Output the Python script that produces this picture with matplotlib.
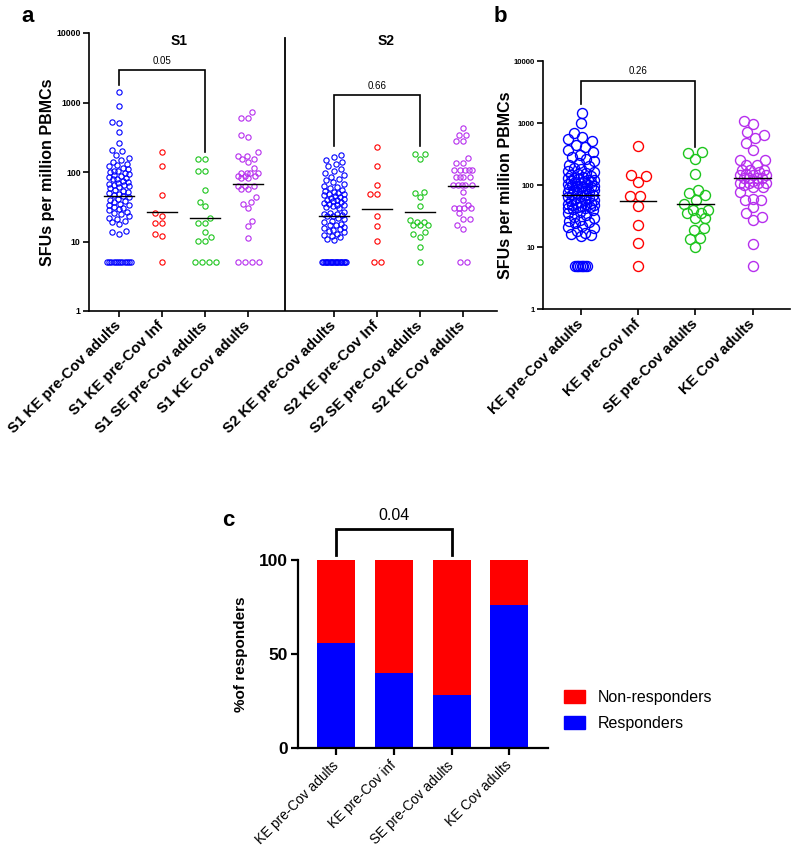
import numpy as np
import matplotlib.pyplot as plt
from matplotlib.patches import Patch

plt.rcParams['font.family'] = ['Liberation Sans', 'DejaVu Sans']

# ---- panel a: S1 / S2 SFUs per million PBMCs ----
a_labels = ['S1 KE pre-Cov adults', 'S1 KE pre-Cov Inf', 'S1 SE pre-Cov adults', 'S1 KE Cov adults',
            'S2 KE pre-Cov adults', 'S2 KE pre-Cov Inf', 'S2 SE pre-Cov adults', 'S2 KE Cov adults']

s1_ke_adults = [1400, 900, 520, 500, 380, 260, 210, 200, 175, 160,
                150, 140, 130, 125, 120, 115, 110, 105, 102, 100, 97, 94, 90, 88, 85,
                83, 80, 78, 75, 72, 70, 68, 66, 64, 62, 60, 58, 56, 54, 52,
                50, 48, 46, 45, 43, 41, 40, 38, 37, 35, 34, 33, 31, 30, 29, 28, 27,
                26, 25, 23, 22, 21, 20, 19, 18, 14, 13.5, 13] + [5] * 12
s1_ke_inf = [196, 123, 47, 25.4, 23.5, 18.6, 18.6, 12.8, 12, 5]
s1_se_adults = [155, 155, 104, 104, 56, 37, 32, 22, 18.6, 18.6, 13.6, 11.7, 10.2, 10.2, 5, 5, 5, 5]
s1_ke_cov = [720, 590, 590, 340, 318, 191, 171, 171, 155, 155, 141, 113, 96, 96, 96, 96,
             89, 89, 89, 83, 83, 63, 63, 63, 57, 57, 43, 37, 35, 30, 20, 16.5, 11.2, 5, 5, 5, 5]

s2_ke_adults = [176, 165, 150, 140, 130, 120, 112, 105, 98, 92, 86, 80, 76, 72, 68,
                62, 60, 58, 56, 54, 52, 50, 49, 48, 46, 45, 44, 42, 41, 40, 39, 38, 37,
                36, 35, 34, 33, 32, 31, 30, 27, 26, 25, 25, 24, 23, 23, 22,
                21, 20, 19, 18, 17.5, 17, 16, 15.5, 15, 14.5, 14, 13.5, 13, 12.5, 12,
                11.5, 11, 10.5] + [5] * 20
s2_ke_inf = [227, 123, 66, 48, 48, 23.5, 16.7, 10, 5, 5]
s2_se_adults = [182, 182, 155, 52, 50, 43, 32, 20.4, 19, 19, 17, 17, 17, 13.8, 12.7, 11.7, 8.4, 5]
s2_ke_cov = [425, 340, 340, 275, 275, 158, 133, 133, 107, 107, 107, 107, 107, 86, 86, 86, 86,
             65, 65, 65, 65, 65, 52, 40, 33.5, 30, 30, 30, 30, 25.5, 21, 21, 17, 15, 5, 5]

# ---- panel b: combined ----
b_labels = ['KE pre-Cov adults', 'KE pre-Cov Inf', 'SE pre-Cov adults', 'KE Cov adults']
b_ke_adults = [1430, 990, 690, 600, 560, 520, 450, 410, 365, 340, 310, 280, 260, 240, 225,
               210, 200, 190, 180, 170,
               160, 155, 150, 145, 140, 135, 130, 128, 125, 122, 120, 117, 115, 112, 110,
               108, 105, 103, 100, 98, 96, 94, 92, 90, 88, 86, 84, 82, 80, 78, 76, 74, 72,
               70, 68, 66, 64, 62, 60, 58, 57, 55, 54, 52, 51, 50, 49, 48, 47, 46, 45, 44,
               43, 42, 41,
               39, 37, 35, 33, 31, 29, 27, 26, 25, 24, 22, 21, 20, 18, 17, 16, 15.5, 15] + [5] * 8
b_ke_inf = [425, 145, 140, 113, 66, 66, 46, 22.6, 11.7, 5]
b_se_adults = [345, 330, 259, 150, 83, 74, 69, 57, 50, 40, 39, 35, 35, 29, 29, 20, 19, 14, 13.5, 10]
b_ke_cov = [1090, 960, 720, 640, 570, 480, 365, 252, 252, 210, 210, 174, 174, 174, 160, 150,
            145, 145, 145, 128, 128, 128, 128, 115, 109, 109, 109, 109, 100, 94, 94, 78, 60,
            57, 57, 45, 35, 30, 27, 11.2, 5]

# ---- panel c: % of responders ----
c_labels = ['KE pre-Cov adults', 'KE pre-Cov inf', 'SE pre-Cov adults', 'KE Cov adults']
responders = [56, 40, 28, 76]
non_responders = [100 - r for r in responders]

BLUE, RED, GREEN, PURPLE = '#0000FF', '#FF0000', '#1DC51D', '#B62EEE'


def swarm(yp, c, wmax, fixed_x=(), fixed_y=()):
    xs = np.zeros(len(yp))
    px, py = list(fixed_x), list(fixed_y)
    grid = np.linspace(-wmax, wmax, 41)
    for i in np.argsort(yp):
        y = yp[i]
        ax_ = np.array(px)
        ay_ = np.array(py)
        near = np.abs(ay_ - y) < c if len(ay_) else np.zeros(0, bool)
        cands = [0.0]
        for x0, y0 in zip(ax_[near], ay_[near]):
            dx = np.sqrt(c * c - (y - y0) ** 2)
            cands += [x0 - dx, x0 + dx]
        best = None
        for x in sorted(set(cands), key=abs):
            if abs(x) > wmax + 1e-9:
                continue
            if not near.any() or np.all((ax_[near] - x) ** 2 + (ay_[near] - y) ** 2 >= c * c - 1e-6):
                best = x
                break
        if best is None:
            d = [np.min((ax_[near] - g) ** 2 + (ay_[near] - y) ** 2) for g in grid]
            best = grid[int(np.argmax(d))]
        xs[i] = best
        px.append(best)
        py.append(y)
    return xs


def draw_group(ax, xpos, vals, color, ms, mew, c, wmax, row_w, half):
    vals = np.asarray(vals, float)
    pts = ax.transData.transform(np.column_stack([np.full(len(vals), xpos), vals]))
    floor = vals == vals.min()
    off = np.zeros(len(vals))
    if floor.sum() > 1:
        n = floor.sum()
        span = min((n - 1) * c, row_w)
        off[floor] = np.linspace(-span / 2, span / 2, n)
    rest = ~floor if floor.sum() > 1 else np.ones(len(vals), bool)
    off[rest] = swarm(pts[rest, 1], c, wmax, off[~rest], pts[~rest, 1])
    pts[:, 0] += off
    data = ax.transData.inverted().transform(pts)
    ax.plot(data[:, 0], data[:, 1], 'o', mfc='none', mec=color, ms=ms, mew=mew, clip_on=False, zorder=2)
    gm = 10 ** np.mean(np.log10(vals))
    ax.plot([xpos - half, xpos + half], [gm, gm], color='black', lw=1.0, zorder=3)


def bracket(ax, x0, x1, ytop, yl, yr, label, fs, lw, dy):
    ax.plot([x0, x0, x1, x1], [yl, ytop, ytop, yr], color='black', lw=lw, clip_on=False,
            solid_joinstyle='miter')
    ax.text((x0 + x1) / 2, dy, label, ha='center', va='center', fontsize=fs)


fig = plt.figure(figsize=(7.94, 8.52), dpi=100)
W, H = 794, 852


def box(x0, x1, ytop, ybot):
    return [x0 / W, 1 - ybot / H, (x1 - x0) / W, (ybot - ytop) / H]


# ---------------- panel a ----------------
ax = fig.add_axes(box(89, 497, 33, 311))
ax.set_yscale('log')
ax.set_ylim(1, 10000)
ax.set_xlim(-0.7, 8.79)
a_pos = [0, 1, 2, 3, 5, 6, 7, 8]
a_data = [s1_ke_adults, s1_ke_inf, s1_se_adults, s1_ke_cov,
          s2_ke_adults, s2_ke_inf, s2_se_adults, s2_ke_cov]
a_cols = [BLUE, RED, GREEN, PURPLE] * 2
for p, v, col in zip(a_pos, a_data, a_cols):
    draw_group(ax, p, v, col, 3.8, 0.8, 7, 10, 24, 0.34)
ax.plot([3.85, 3.85], [1, 8500], color='black', lw=1.3)
ax.text(1.4, 7600, 'S1', ha='center', va='center', fontsize=10, fontweight='bold')
ax.text(6.2, 7600, 'S2', ha='center', va='center', fontsize=10, fontweight='bold')
bracket(ax, 0, 2, 2940, 1790, 195, '0.05', 7, 1.2, 4000)
bracket(ax, 5, 7, 1280, 237, 237, '0.66', 7, 1.2, 1750)
ax.set_yticks([1, 10, 100, 1000, 10000])
ax.set_yticklabels(['1', '10', '100', '1000', '10000'], fontsize=6.3, fontweight='bold')
ax.minorticks_off()
ax.set_xticks(a_pos)
ax.set_xticklabels(a_labels, rotation=45, ha='right', va='center', rotation_mode='anchor',
                   fontsize=10.8, fontweight='bold')
ax.set_ylabel('SFUs per million PBMCs', fontsize=11.5, fontweight='bold', labelpad=1)
for s in ['top', 'right']:
    ax.spines[s].set_visible(False)
for s in ['left', 'bottom']:
    ax.spines[s].set_linewidth(1.2)
ax.tick_params(axis='both', width=1.2, length=4, pad=2)
ax.tick_params(axis='x', pad=5)

# ---------------- panel b ----------------
bx = fig.add_axes(box(543, 790, 61, 309))
bx.set_yscale('log')
bx.set_ylim(1, 10000)
bx.set_xlim(-0.66, 3.65)
b_data = [b_ke_adults, b_ke_inf, b_se_adults, b_ke_cov]
for p, (v, col) in enumerate(zip(b_data, [BLUE, RED, GREEN, PURPLE])):
    draw_group(bx, p, v, col, 7.2, 1.0, 10, 13, 12, 0.32)
bracket(bx, 0, 2, 4750, 2030, 410, '0.26', 7, 1.2, 7000)
bx.set_yticks([1, 10, 100, 1000, 10000])
bx.set_yticklabels(['1', '10', '100', '1000', '10000'], fontsize=5.6, fontweight='bold')
bx.minorticks_off()
bx.set_xticks(range(4))
bx.set_xticklabels(b_labels, rotation=45, ha='right', va='center', rotation_mode='anchor',
                   fontsize=10.5, fontweight='bold')
bx.set_ylabel('SFUs per million PBMCs', fontsize=11.5, fontweight='bold', labelpad=0)
for s in ['top', 'right']:
    bx.spines[s].set_visible(False)
for s in ['left', 'bottom']:
    bx.spines[s].set_linewidth(1.2)
bx.tick_params(axis='both', width=1.2, length=4, pad=2)
bx.tick_params(axis='x', pad=5)

# ---------------- panel c ----------------
cx = fig.add_axes(box(298, 548, 560, 748))
xc = np.arange(len(c_labels))
cx.bar(xc, responders, width=0.66, color=BLUE, label='Responders')
cx.bar(xc, non_responders, width=0.66, bottom=responders, color=RED, label='Non-responders')
cx.set_xlim(-0.66, 3.67)
cx.set_ylim(0, 100)
bracket(cx, 0, 2, 116.5, 102.7, 102.7, '0.04', 11.5, 2.0, 123.5)
cx.set_yticks([0, 50, 100])
cx.set_yticklabels(['0', '50', '100'], fontsize=12.5, fontweight='bold')
cx.set_xticks(xc)
cx.set_xticklabels(c_labels, rotation=45, ha='right', va='center', rotation_mode='anchor', fontsize=9.8)
cx.set_ylabel('%of responders', fontsize=11, fontweight='bold', labelpad=8)
for s in ['top', 'right']:
    cx.spines[s].set_visible(False)
for s in ['left', 'bottom']:
    cx.spines[s].set_linewidth(1.6)
cx.tick_params(axis='both', width=1.6, length=5, pad=2)
cx.tick_params(axis='x', pad=6)
cx.legend(handles=[Patch(color=RED, label='Non-responders'), Patch(color=BLUE, label='Responders')],
          loc='center left', bbox_to_anchor=(1.04, 0.2), frameon=False, fontsize=11.5,
          handlelength=1.3, handleheight=0.9, handletextpad=0.8, labelspacing=0.7, borderaxespad=0)

fig.text(28 / W, 1 - 16 / H, 'a', fontsize=16, fontweight='bold', ha='center', va='center')
fig.text(500 / W, 1 - 16 / H, 'b', fontsize=16, fontweight='bold', ha='center', va='center')
fig.text(228 / W, 1 - 521 / H, 'c', fontsize=16, fontweight='bold', ha='center', va='center')

fig.savefig('out.png', dpi=100)
